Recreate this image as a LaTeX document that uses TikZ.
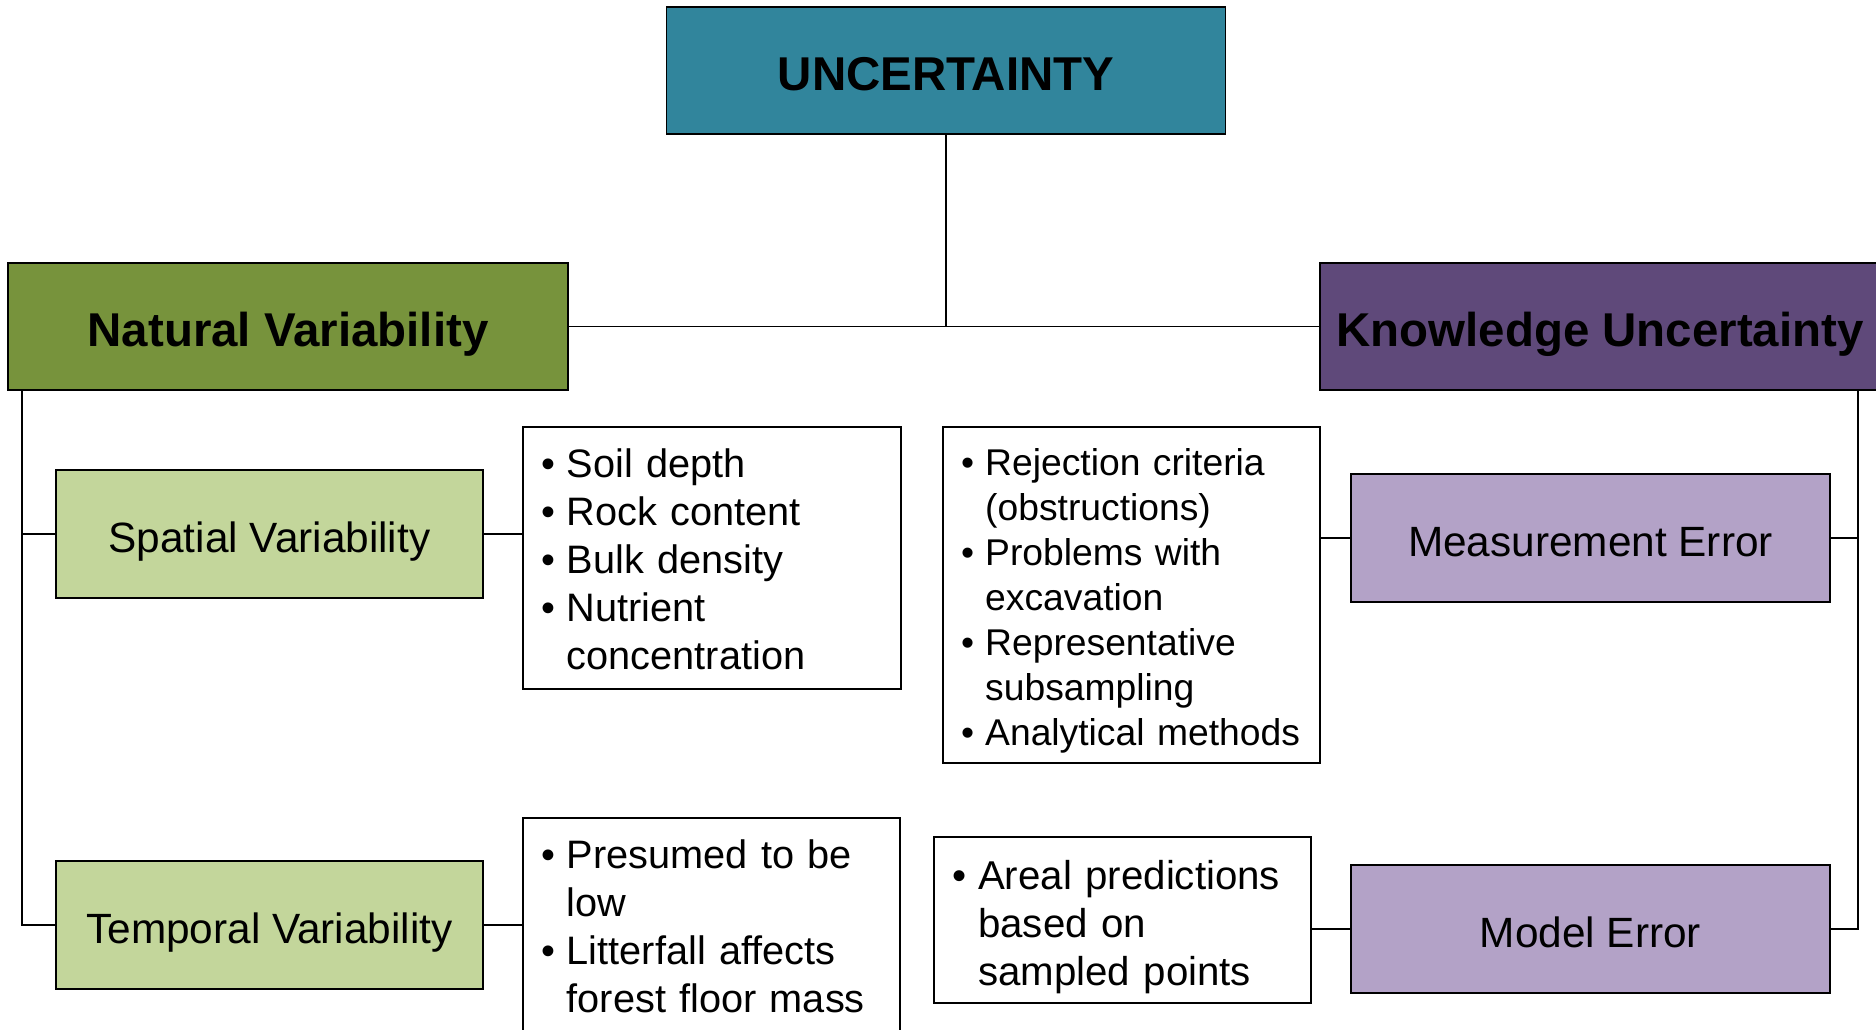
\documentclass[tikz,border=0pt]{standalone}
\usepackage{fontspec}
\setmainfont{Liberation Sans}

\definecolor{uncteal}{HTML}{31859C}
\definecolor{natgreen}{HTML}{77933C}
\definecolor{knowpurple}{HTML}{5F497A}
\definecolor{lightgreen}{HTML}{C3D69B}
\definecolor{lightpurple}{HTML}{B3A2C7}

% one bullet with a hanging indent, \lbr breaks a line inside it
\newcommand{\litem}[1]{\par\hangindent=0.65em\hangafter=1\noindent\makebox[0.65em][l]{\textbullet}#1}
\newcommand{\lbr}{\hfil\break}

\tikzset{
  box/.style={draw=black, line width=0.35mm, rectangle, inner sep=0pt, align=center},
  headbox/.style={box, minimum width=112mm, minimum height=25.4mm,
    text height=24pt, text depth=1.5pt, font=\fontsize{27}{32}\selectfont\bfseries},
  subbox/.style={box, minimum height=25.6mm, text height=22.5pt, text depth=1.3pt,
    font=\fontsize{24.1}{29}\selectfont},
  listbox/.style={draw=black, line width=0.35mm, fill=white, inner xsep=3.6mm,
    inner ysep=0pt, align=left},
  link/.style={draw=black, line width=0.35mm},
}

\begin{document}
\begin{tikzpicture}[x=0.2mm,y=-0.2mm]
  \useasboundingbox (0,0) rectangle (1876,1029);

  % top level
  \node[headbox, fill=uncteal, minimum width=111.8mm] (uncert) at (946,70.5) {UNCERTAINTY};
  \node[headbox, fill=natgreen] (natural) at (288,326.5) {Natural Variability};
  \node[headbox, fill=knowpurple] (knowledge) at (1600,326.5) {Knowledge Uncertainty};

  % natural side
  \node[subbox, fill=lightgreen, minimum width=85.4mm] (spatial) at (269.5,534) {Spatial Variability};
  \node[subbox, fill=lightgreen, minimum width=85.4mm] (temporal) at (269.5,925) {Temporal Variability};
  \node[listbox, text width=68.4mm, minimum height=52.4mm,
    font=\fontsize{22.6}{27.3}\selectfont] (spatiallist) at (712,558)
    {\litem{Soil depth}\litem{Rock content}\litem{Bulk density}%
     \litem{Nutrient\lbr concentration}\par\kern3.4mm};
  \node[listbox, text width=68.2mm, minimum height=42.8mm,
    font=\fontsize{22.6}{27.3}\selectfont] (temporallist) at (711.5,925)
    {\litem{Presumed to be\lbr low}\litem{Litterfall affects\lbr forest floor mass}\par\kern3.4mm};

  % knowledge side
  \node[subbox, fill=lightpurple, minimum width=95.8mm] (meas) at (1590.5,538) {Measurement Error};
  \node[subbox, fill=lightpurple, minimum width=95.8mm] (model) at (1590.5,929) {Model Error};
  \node[listbox, text width=68.2mm, minimum height=67.2mm,
    font=\fontsize{21.2}{25.6}\selectfont] (measlist) at (1131.5,595)
    {\litem{Rejection criteria\lbr (obstructions)}\litem{Problems with\lbr excavation}%
     \litem{Representative\lbr subsampling}\litem{Analytical methods}\par\kern1.4mm};
  \node[listbox, text width=68.2mm, minimum height=33.2mm,
    font=\fontsize{22.9}{27.3}\selectfont] (modellist) at (1122.5,920)
    {\litem{Areal predictions\lbr based on\lbr sampled points}\par\kern1mm};

  % rails
  \coordinate (ltop) at (22,390);
  \coordinate (rtop) at (1858,390);

  \draw[link] (uncert.south) to (uncert.south |- natural.east);
  \draw[link] (natural.east) to (knowledge.west);

  \draw[link] (ltop) to (ltop |- temporal.west) to (temporal.west);
  \draw[link] (spatial.west -| ltop) to (spatial.west);
  \draw[link] (spatial.east) to (spatial.east -| spatiallist.west);
  \draw[link] (temporal.east) to (temporal.east -| temporallist.west);

  \draw[link] (rtop) to (rtop |- model.east) to (model.east);
  \draw[link] (meas.east -| rtop) to (meas.east);
  \draw[link] (meas.west -| measlist.east) to (meas.west);
  \draw[link] (model.west -| modellist.east) to (model.west);
\end{tikzpicture}
\end{document}
